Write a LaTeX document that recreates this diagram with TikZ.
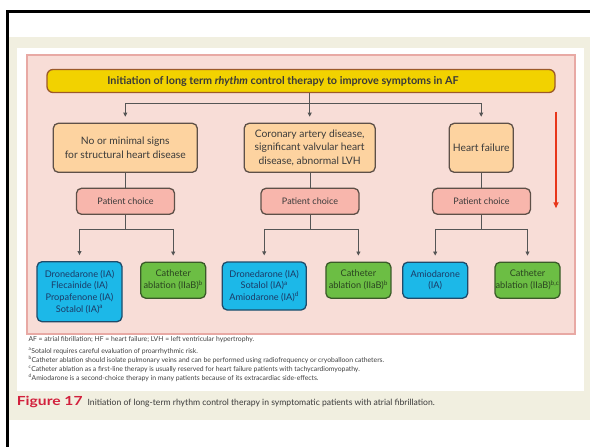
\documentclass[tikz,border=0pt]{standalone}
\usepackage{fontspec}
\usepackage{graphicx}
\setmainfont{Lato}
\usetikzlibrary{arrows.meta}
\definecolor{cream}{HTML}{F1EFE0}
\definecolor{panelfill}{HTML}{F8DDD7}
\definecolor{paneldraw}{HTML}{E8A9A4}
\definecolor{titlefill}{HTML}{F2D200}
\definecolor{titledraw}{HTML}{9C5A2A}
\definecolor{condfill}{HTML}{FDD3A0}
\definecolor{darkdraw}{HTML}{5E5048}
\definecolor{choicefill}{HTML}{F8B6AC}
\definecolor{bluefill}{HTML}{1CB8E8}
\definecolor{bluedraw}{HTML}{1F4B6A}
\definecolor{bluetext}{HTML}{1B3A66}
\definecolor{greenfill}{HTML}{6CBE44}
\definecolor{greendraw}{HTML}{3A5A28}
\definecolor{greentext}{HTML}{2A4420}
\definecolor{boxtext}{HTML}{3A3A3A}
\definecolor{connc}{HTML}{555555}
\definecolor{redarrow}{HTML}{E8361A}
\definecolor{figred}{HTML}{D2203C}
\definecolor{notetext}{HTML}{404040}
\begin{document}
\begin{tikzpicture}[x=1pt,y=-1pt,
  box/.style={draw, rounded corners=5pt, line width=1.3pt, inner sep=0pt, align=center},
  titlebox/.style={box, fill=titlefill, draw=titledraw, rounded corners=6pt, text=boxtext,
    minimum width=508pt, minimum height=23pt, font=\fontsize{10.8}{13}\selectfont\bfseries},
  cond/.style={box, fill=condfill, draw=darkdraw, text=boxtext, minimum height=49pt,
    font=\fontsize{10.3}{13.5}\selectfont},
  choice/.style={box, fill=choicefill, draw=darkdraw, text=boxtext, minimum width=98pt,
    minimum height=26pt, font=\fontsize{9}{11}\selectfont},
  drug/.style={box, fill=bluefill, draw=bluedraw, text=bluetext,
    font=\fontsize{9.2}{11.7}\selectfont},
  abl/.style={box, fill=greenfill, draw=greendraw, text=greentext, minimum width=65pt,
    minimum height=36pt, font=\fontsize{9.2}{12}\selectfont},
  conn/.style={draw=connc, line width=0.8pt},
  arr/.style={conn, -{Triangle[width=4pt,length=4pt]}, shorten >=6pt},
  note/.style={anchor=base west, inner sep=0pt, text=notetext, font=\fontsize{6.8}{8}\selectfont}
]
\useasboundingbox (0,0) rectangle (590,447);
\fill[white] (0,0) rectangle (590,447);
\fill[black] (5.5,9.5) rectangle (590,13);
\fill[black] (5.5,9.5) rectangle (9,447);
\fill[cream] (9,37) rectangle (590,420);
\fill[white] (17,48) rectangle (584,391);
\draw[fill=panelfill, draw=paneldraw, line width=1.2pt] (27,55) rectangle (575,334);

\node[titlebox] (title) at (301,81)
  {\hspace*{-36pt}Initiation of long term \textit{rhythm} control therapy to improve symptoms in AF};

\node[cond, minimum width=144pt] (c1) at (125.3,147.8) {No or minimal signs\\for structural heart disease};
\node[cond, minimum width=131pt] (c2) at (309.7,147.8) {Coronary artery disease,\\significant valvular heart\\disease, abnormal LVH};
\node[cond, minimum width=64pt] (c3) at (481.2,147.8) {Heart failure};

\node[choice] (p1) at (125.5,201.3) {Patient choice};
\node[choice] (p2) at (310,201.3) {Patient choice};
\node[choice] (p3) at (481.5,201.3) {Patient choice};

\node[drug, minimum width=85pt, minimum height=60pt] (b1) at (79.5,291.7)
  {Dronedarone (IA)\\Flecainide (IA)\\Propafenone (IA)\\Sotalol (IA)\textsuperscript{a}};
\node[abl] (g1) at (173.2,280.2) {Catheter\\ablation (IIaB)\textsuperscript{b}};
\node[drug, minimum width=84pt, minimum height=48pt] (b2) at (264.2,286) 
  {Dronedarone (IA)\\Sotalol (IA)\textsuperscript{a}\\Amiodarone (IA)\textsuperscript{d}};
\node[abl] (g2) at (358.4,280.2) {Catheter\\ablation (IIaB)\textsuperscript{b}};
\node[drug, minimum width=65pt, minimum height=36pt] (b3) at (435.2,280.2) {Amiodarone\\(IA)};
\node[abl] (g3) at (527.5,280.2) {Catheter\\ablation (IIaB)\textsuperscript{b,c}};

% connectors from title
\path (title.south -| c2.north) ++(0,10) coordinate (jt);
\draw[conn] (title.south -| c2.north) -- (jt);
\draw[conn] (jt -| c1.north) -- (jt -| c3.north);
\foreach \n in {c1,c2,c3} \draw[arr] (jt -| \n.north) -- (\n.north);

% conditions to patient choice
\foreach \n/\p in {c1/p1,c2/p2,c3/p3} \draw[conn] (\p.north |- \n.south) -- (\p.north);

% patient choice to therapies
\foreach \p/\l/\r/\k in {p1/b1/g1/k1,p2/b2/g2/k2,p3/b3/g3/k3}{
  \path (\p.south) ++(0,14) coordinate (\k);
  \draw[conn] (\p.south) -- (\k);
  \draw[conn] (\k -| \l.north) -- (\k -| \r.north);
  \draw[arr] (\k -| \l.north) -- (\l.north);
  \draw[arr] (\k -| \r.north) -- (\r.north);
}

% red arrow
\coordinate (rtop) at (556,111.7);
\coordinate (rbot) at (556,208.3);
\draw[redarrow, line width=1.6pt, -{Triangle[width=5pt,length=6pt]}] (rtop) -- (rbot);

% footnotes
\node[note] (n1) at (28.3,341) {AF = atrial fibrillation; HF = heart failure; LVH = left ventricular hypertrophy.};
\node[note] (n2) at (28.3,353.5) {\textsuperscript{a}Sotalol requires careful evaluation of proarrhythmic risk.};
\node[note] (n3) at (28.3,362.6) {\textsuperscript{b}Catheter ablation should isolate pulmonary veins and can be performed using radiofrequency or cryoballoon catheters.};
\node[note] (n4) at (28.3,371.5) {\textsuperscript{c}Catheter ablation as a first-line therapy is usually reserved for heart failure patients with tachycardiomyopathy.};
\node[note] (n5) at (28.3,380.4) {\textsuperscript{d}Amiodarone is a second-choice therapy in many patients because of its extracardiac side-effects.};

% caption
\node[anchor=base west, inner sep=0pt, text=boxtext, font=\fontsize{8.6}{11}\selectfont] (cap) at (16.7,405)
  {\textcolor{figred}{\scalebox{1.25}[1]{\fontsize{12.5}{13}\selectfont\bfseries Figure 17}}\hspace{5pt}Initiation of long-term rhythm control therapy in symptomatic patients with atrial fibrillation.};
\end{tikzpicture}
\end{document}
